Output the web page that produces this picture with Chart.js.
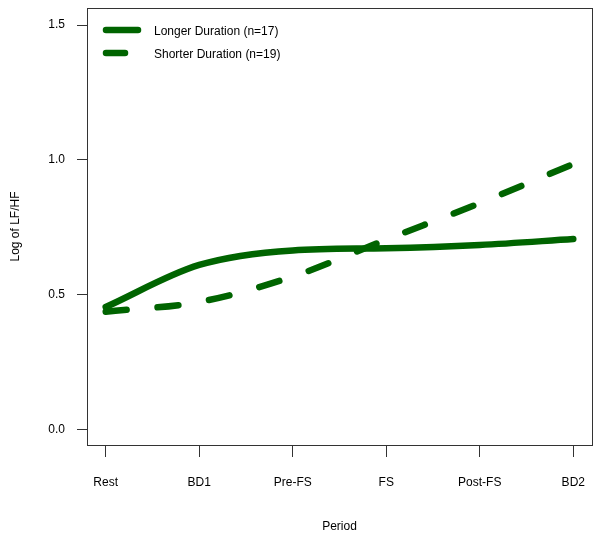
<!DOCTYPE html>
<html>
<head>
<meta charset="utf-8">
<script src="https://cdn.jsdelivr.net/npm/chart.js@4/dist/chart.umd.min.js"></script>
<style>
html,body{margin:0;padding:0;background:#fff;}
#wrap{width:600px;height:541px;}
</style>
</head>
<body>
<div id="wrap"><canvas id="c" width="600" height="541"></canvas></div>
<script>
const periods = ["Rest", "BD1", "Pre-FS", "FS", "Post-FS", "BD2"];
const longerDuration = [0.455, 0.611, 0.665, 0.673, 0.685, 0.707];
const shorterDuration = [0.438, 0.474, 0.568, 0.705, 0.840, 0.985];
const yTicks = [0.0, 0.5, 1.0, 1.5];
const seriesLabels = ["Longer Duration (n=17)", "Shorter Duration (n=19)"];

const green = "#006400";
const font = {family: "'Liberation Sans', Arial, sans-serif", size: 12};

const boxPlugin = {
  id: 'boxAndLegend',
  afterDraw(chart) {
    const ctx = chart.ctx, a = chart.chartArea;
    ctx.save();
    ctx.strokeStyle = '#333';
    ctx.lineWidth = 1;
    ctx.strokeRect(Math.round(a.left) + 0.5, Math.round(a.top) + 0.5, Math.round(a.right - a.left), Math.round(a.bottom - a.top));
    // legend
    const x0 = a.left + 16, y0 = a.top + 22;
    chart.data.datasets.forEach((ds, i) => {
      const y = y0 + i * 23;
      ctx.strokeStyle = ds.borderColor;
      ctx.lineWidth = ds.borderWidth;
      ctx.lineCap = 'round';
      ctx.setLineDash(i === 0 ? [] : [19, 50]);
      ctx.beginPath();
      ctx.moveTo(x0 + 3, y);
      ctx.lineTo(x0 + 35, y);
      ctx.stroke();
      ctx.setLineDash([]);
      ctx.fillStyle = '#000';
      ctx.font = "12px 'Liberation Sans', Arial, sans-serif";
      ctx.textBaseline = 'middle';
      ctx.textAlign = 'left';
      ctx.fillText(ds.label, x0 + 51, y + 2);
    });
    ctx.restore();
  }
};

function noPad(scale) {
  scale.paddingTop = 0; scale.paddingBottom = 0;
  scale.paddingLeft = 0; scale.paddingRight = 0;
}

new Chart(document.getElementById('c'), {
  type: 'line',
  data: {
    datasets: [
      {
        label: seriesLabels[0],
        data: longerDuration.map((v, i) => ({x: i, y: v})),
        borderColor: green,
        borderWidth: 6.5,
        borderCapStyle: 'round',
        borderJoinStyle: 'round',
        pointRadius: 0,
        fill: false,
        cubicInterpolationMode: 'monotone'
      },
      {
        label: seriesLabels[1],
        data: shorterDuration.map((v, i) => ({x: i, y: v})),
        borderColor: green,
        borderWidth: 6.5,
        borderDash: [21, 31],
        borderCapStyle: 'round',
        borderJoinStyle: 'round',
        pointRadius: 0,
        fill: false,
        cubicInterpolationMode: 'monotone'
      }
    ]
  },
  options: {
    responsive: false,
    animation: false,
    devicePixelRatio: 1,
    layout: {autoPadding: false, padding: {top: 8, right: 8, left: 0, bottom: 0}},
    plugins: {legend: {display: false}, tooltip: {enabled: false}},
    scales: {
      x: {
        type: 'linear',
        min: -0.2,
        max: 5.2,
        afterBuildTicks(scale) { scale.ticks = periods.map((p, i) => ({value: i})); },
        afterFit(scale) { scale.height = 96; noPad(scale); },
        border: {display: false},
        grid: {drawOnChartArea: false, drawTicks: true, tickLength: 12, color: '#333'},
        ticks: {
          autoSkip: false,
          maxRotation: 0,
          color: '#000',
          font: font,
          padding: 18,
          callback: (v) => periods[v]
        },
        title: {display: true, text: 'Period', color: '#000', font: font, padding: {top: 0, bottom: 7}}
      },
      y: {
        type: 'linear',
        min: -0.056,
        max: 1.563,
        afterBuildTicks(scale) { scale.ticks = yTicks.map(v => ({value: v})); },
        afterFit(scale) { scale.width = 87; noPad(scale); },
        border: {display: false},
        grid: {drawOnChartArea: false, drawTicks: true, tickLength: 10, color: '#333'},
        ticks: {
          color: '#000',
          font: font,
          padding: 12,
          callback: (v) => v.toFixed(1)
        },
        title: {display: true, text: 'Log of LF/HF', color: '#000', font: font, padding: {top: 8, bottom: 0}}
      }
    }
  },
  plugins: [boxPlugin]
});
</script>
</body>
</html>
